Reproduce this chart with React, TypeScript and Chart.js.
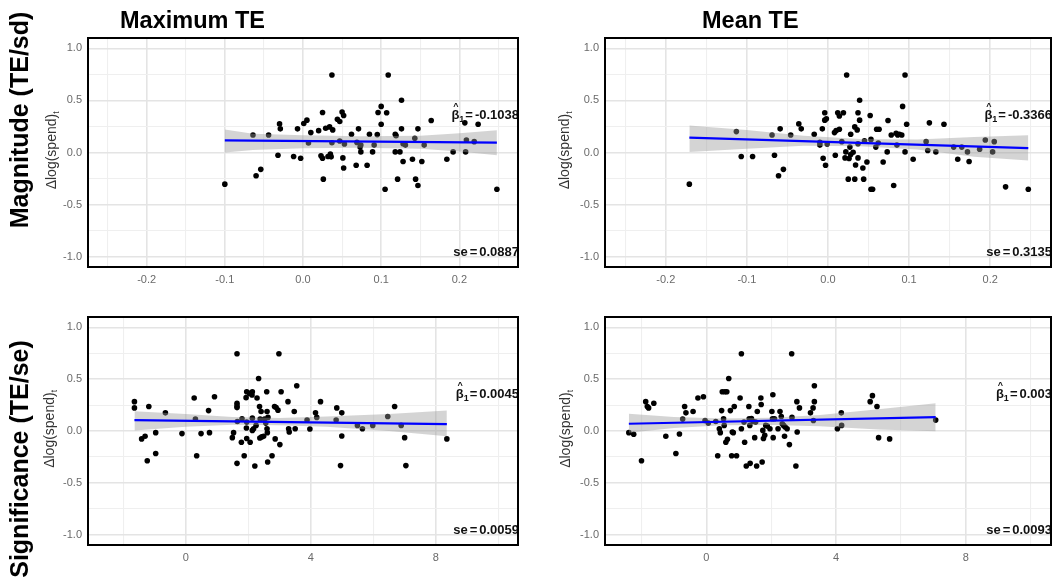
import React, { useEffect, useRef } from "react";
import { Chart, registerables } from "chart.js";

Chart.register(...registerables);

// ---- text ----
const columnTitles = ["Maximum TE", "Mean TE"];
const rowTitles = ["Magnitude (TE/sd)", "Significance (TE/se)"];
const yAxisLabel = "\u0394log(spend)";
const yAxisSub = "t";
const betaLabels = ["-0.1038", "-0.3366", "0.0045", "0.003"];
const seLabels = ["0.0887", "0.3135", "0.0059", "0.0093"];

// ---- axes ----
const yTicks = [-1, -0.5, 0, 0.5, 1];
const yMinorTicks = [-0.75, -0.25, 0.25, 0.75];
const xTicksMagnitude = [-0.2, -0.1, 0, 0.1, 0.2];
const xMinorMagnitude = [-0.25, -0.15, -0.05, 0.05, 0.15, 0.25];
const xTicksSignificance = [0, 4, 8];
const xMinorSignificance = [-2, 2, 6, 10];

// ---- observations: [x, Δlog(spend)] ----
const magMaxPoints: [number, number][] = [
  [-0.1, -0.304], [-0.064, 0.168], [-0.06, -0.223], [-0.054, -0.162], [-0.044, 0.168],
  [-0.03, 0.275], [-0.029, 0.227], [-0.032, -0.026], [-0.012, -0.039], [-0.007, 0.227],
  [-0.003, -0.055], [0.001, 0.278], [0.005, 0.311], [0.007, 0.091], [0.01, 0.191],
  [0.02, 0.21], [0.025, 0.385], [0.023, -0.032], [0.025, -0.055], [0.026, -0.256],
  [0.029, 0.233], [0.032, -0.039], [0.034, 0.246], [0.035, -0.016], [0.036, -0.042],
  [0.037, 0.744], [0.037, 0.094], [0.038, 0.217], [0.044, 0.32], [0.047, 0.298],
  [0.047, 0.11], [0.05, 0.388], [0.052, 0.356], [0.051, -0.052], [0.052, -0.149],
  [0.053, 0.081], [0.062, 0.175], [0.068, -0.123], [0.071, 0.227], [0.069, 0.097],
  [0.073, 0.052], [0.074, 0.006], [0.074, 0.071], [0.082, -0.123], [0.085, 0.175],
  [0.089, 0.006], [0.091, 0.071], [0.095, 0.172], [0.096, 0.385], [0.1, 0.443],
  [0.1, 0.272], [0.105, -0.353], [0.107, 0.382], [0.109, 0.744], [0.118, 0.175],
  [0.119, 0.162], [0.118, 0.006], [0.121, -0.256], [0.124, 0.006], [0.126, 0.502],
  [0.126, 0.227], [0.128, -0.087], [0.128, 0.084], [0.131, 0.071], [0.14, -0.065],
  [0.143, 0.136], [0.144, -0.256], [0.147, 0.227], [0.147, -0.317], [0.152, -0.087],
  [0.155, 0.071], [0.164, 0.307], [0.184, -0.065], [0.192, 0.006], [0.207, 0.285],
  [0.209, 0.12], [0.208, 0.006], [0.219, 0.104], [0.224, 0.272], [0.248, -0.353],
];

const magMeanPoints: [number, number][] = [
  [-0.171, -0.304], [-0.113, 0.201], [-0.107, -0.039], [-0.093, -0.039], [-0.069, 0.168],
  [-0.066, -0.026], [-0.061, -0.223], [-0.059, 0.227], [-0.055, -0.162], [-0.046, 0.168],
  [-0.036, 0.275], [-0.033, 0.227], [-0.017, 0.175], [-0.01, 0.097], [-0.01, 0.071],
  [-0.007, 0.227], [-0.006, -0.055], [-0.004, 0.382], [-0.004, 0.311], [-0.003, -0.123],
  [-0.002, 0.324], [-0.001, 0.081], [0.008, 0.191], [0.009, -0.026], [0.01, 0.21],
  [0.012, 0.382], [0.014, 0.35], [0.014, 0.223], [0.017, 0.104], [0.019, 0.382],
  [0.021, -0.052], [0.022, 0.006], [0.023, 0.744], [0.025, -0.256], [0.026, -0.058],
  [0.027, 0.052], [0.028, 0.175], [0.028, -0.019], [0.031, 0.003], [0.033, -0.256],
  [0.033, 0.246], [0.034, -0.12], [0.036, 0.217], [0.037, -0.052], [0.037, 0.084],
  [0.037, 0.382], [0.039, 0.502], [0.039, 0.311], [0.043, -0.149], [0.044, -0.256],
  [0.045, 0.113], [0.048, -0.091], [0.052, 0.356], [0.053, -0.353], [0.055, -0.353],
  [0.053, 0.126], [0.059, 0.052], [0.06, 0.223], [0.063, 0.223], [0.062, 0.091],
  [0.068, -0.091], [0.073, 0.006], [0.074, 0.307], [0.078, 0.168], [0.081, -0.317],
  [0.084, 0.184], [0.085, 0.071], [0.086, 0.168], [0.088, 0.175], [0.091, 0.168],
  [0.092, 0.443], [0.095, 0.744], [0.095, 0.006], [0.097, 0.272], [0.105, -0.065],
  [0.121, 0.104], [0.123, 0.019], [0.125, 0.285], [0.133, 0.006], [0.143, 0.272],
  [0.155, 0.052], [0.16, -0.065], [0.165, 0.052], [0.172, 0.006], [0.174, -0.087],
  [0.187, 0.032], [0.194, 0.12], [0.203, 0.006], [0.205, 0.104], [0.219, -0.33],
  [0.247, -0.353],
];

const sigMaxPoints: [number, number][] = [
  [-1.64, 0.283], [-1.64, 0.223], [-1.18, 0.236], [-1.41, -0.076], [-1.3, -0.051],
  [-1.23, -0.287], [-0.96, -0.016], [-0.96, -0.217], [-0.65, 0.175], [-0.12, -0.025],
  [0.27, 0.318], [0.31, 0.115], [0.35, -0.239], [0.49, -0.025], [0.73, 0.197],
  [0.76, -0.016], [0.92, 0.331], [1.49, -0.064], [1.53, -0.016], [1.64, 0.745],
  [1.64, 0.268], [1.64, 0.242], [1.64, 0.226], [1.64, -0.312], [1.65, 0.092],
  [1.8, 0.118], [1.78, -0.108], [1.87, -0.239], [1.93, 0.322], [1.95, 0.379],
  [1.94, 0.029], [1.95, -0.073], [1.95, 0.086], [2.04, 0.363], [2.06, -0.108],
  [2.12, 0.347], [2.13, 0.379], [2.13, 0.124], [2.13, 0.006], [2.17, 0.022],
  [2.21, -0.338], [2.25, 0.054], [2.28, 0.318], [2.33, 0.506], [2.36, 0.236],
  [2.38, 0.115], [2.37, -0.067], [2.41, 0.188], [2.43, -0.057], [2.49, -0.051],
  [2.52, 0.115], [2.56, 0.076], [2.59, 0.379], [2.6, 0.188], [2.6, 0.022],
  [2.61, -0.016], [2.62, -0.299], [2.63, 0.131], [2.76, -0.239], [2.84, 0.236],
  [2.86, -0.076], [2.89, 0.226], [2.95, 0.201], [2.98, 0.745], [3.01, -0.131],
  [3.05, 0.379], [3.27, 0.283], [3.29, 0.022], [3.31, -0.01], [3.47, 0.188],
  [3.5, 0.022], [3.55, 0.436], [3.88, 0.105], [3.97, 0.019], [4.15, 0.175],
  [4.19, 0.131], [4.31, 0.283], [4.81, 0.105], [4.83, 0.223], [4.95, -0.334],
  [4.99, 0.175], [4.99, -0.048], [5.49, 0.054], [5.65, 0.022], [5.98, 0.054],
  [6.46, 0.14], [6.68, 0.236], [6.89, 0.054], [7.0, -0.064], [7.04, -0.334],
  [8.35, -0.076],
];

const sigMeanPoints: [number, number][] = [
  [-2.39, -0.016], [-2.24, -0.032], [-2.0, -0.287], [-1.87, 0.283], [-1.82, 0.236],
  [-1.78, 0.223], [-1.62, 0.268], [-1.25, -0.051], [-0.94, -0.217], [-0.83, -0.029],
  [-0.73, 0.115], [-0.67, 0.236], [-0.63, 0.175], [-0.41, 0.188], [-0.26, 0.318],
  [-0.09, 0.331], [-0.04, 0.102], [0.06, 0.076], [0.29, 0.092], [0.35, -0.239],
  [0.4, 0.022], [0.43, -0.016], [0.47, 0.197], [0.49, 0.379], [0.53, 0.118],
  [0.55, 0.054], [0.57, 0.379], [0.63, 0.379], [0.6, -0.108], [0.65, -0.08],
  [0.69, 0.506], [0.74, 0.197], [0.78, -0.239], [0.8, -0.01], [0.83, -0.016],
  [0.86, 0.236], [0.93, -0.239], [1.04, 0.318], [1.08, 0.745], [1.08, 0.022],
  [1.16, 0.086], [1.18, -0.108], [1.23, -0.338], [1.31, 0.236], [1.32, 0.118],
  [1.34, 0.054], [1.35, -0.312], [1.39, 0.121], [1.44, 0.092], [1.49, -0.064],
  [1.52, 0.086], [1.55, -0.338], [1.57, 0.188], [1.68, 0.318], [1.69, 0.255],
  [1.72, -0.299], [1.74, 0.006], [1.76, -0.073], [1.8, -0.041], [1.83, 0.054],
  [1.88, 0.048], [1.96, 0.022], [2.02, 0.188], [2.04, 0.118], [2.05, 0.35],
  [2.06, -0.064], [2.1, 0.118], [2.21, 0.022], [2.27, 0.188], [2.31, 0.14],
  [2.34, 0.07], [2.38, 0.054], [2.41, -0.051], [2.43, 0.038], [2.49, 0.022],
  [2.56, -0.131], [2.63, 0.745], [2.64, 0.131], [2.76, -0.338], [2.79, 0.283],
  [2.8, -0.01], [2.87, 0.223], [3.21, 0.175], [3.29, 0.223], [3.3, 0.102],
  [3.33, 0.436], [3.33, 0.283], [4.04, 0.022], [4.16, 0.175], [4.17, 0.054],
  [5.05, 0.283], [5.12, 0.341], [5.26, 0.236], [5.31, -0.064], [5.65, -0.076],
  [7.07, 0.105],
];

// ---- fitted lines (x at ends, fitted value at ends) ----
const magMaxFitX = [-0.1, 0.248];
const magMaxFitY = [0.117, 0.094];
const magMeanFitX = [-0.171, 0.247];
const magMeanFitY = [0.142, 0.042];
const sigMaxFitX = [-1.64, 8.35];
const sigMaxFitY = [0.105, 0.067];
const sigMeanFitX = [-2.39, 7.07];
const sigMeanFitY = [0.07, 0.134];

// ---- confidence bands ----
const magMaxBandX = [-0.1, -0.064, 0.0, 0.074, 0.15, 0.2, 0.248];
const magMaxBandLo = [0.0, 0.025, 0.04, 0.045, 0.035, 0.01, -0.026];
const magMaxBandHi = [0.222, 0.18, 0.165, 0.155, 0.16, 0.185, 0.213];

const magMeanBandX = [-0.171, -0.1, -0.03, 0.04, 0.11, 0.18, 0.247];
const magMeanBandLo = [0.006, 0.035, 0.065, 0.06, 0.03, -0.04, -0.078];
const magMeanBandHi = [0.259, 0.215, 0.16, 0.13, 0.125, 0.15, 0.165];

const sigMaxBandX = [-1.64, 0.0, 1.5, 3.0, 4.5, 6.5, 8.35];
const sigMaxBandLo = [0.006, 0.04, 0.06, 0.055, 0.04, 0.0, -0.051];
const sigMaxBandHi = [0.191, 0.165, 0.135, 0.125, 0.14, 0.165, 0.197];

const sigMeanBandX = [-2.39, -1.0, 0.5, 2.0, 3.5, 5.3, 7.07];
const sigMeanBandLo = [-0.016, 0.03, 0.055, 0.058, 0.045, 0.015, -0.003];
const sigMeanBandHi = [0.166, 0.135, 0.12, 0.128, 0.155, 0.21, 0.268];

const FONT = '"Liberation Sans", Arial, Helvetica, sans-serif';

type PanelSpec = {
  left: number;
  top: number;
  w: number;
  h: number;
  area: { left: number; top: number; right: number; bottom: number };
  points: [number, number][];
  fitX: number[];
  fitY: number[];
  bandX: number[];
  bandLo: number[];
  bandHi: number[];
  xRange: [number, number];
  xMajor: number[];
  xMinor: number[];
  xDecimals: number;
  beta: string;
  se: string;
  yTitleX: number;
  colTitle?: { text: string; x: number; y: number };
  rowTitle?: { text: string; x: number; y: number };
};

const Y_AXIS_W = 40;
const X_AXIS_H = 24;

const panels: PanelSpec[] = [
  {
    left: 0, top: 0, w: 545, h: 295,
    area: { left: 88, top: 38, right: 518, bottom: 267 },
    points: magMaxPoints, fitX: magMaxFitX, fitY: magMaxFitY,
    bandX: magMaxBandX, bandLo: magMaxBandLo, bandHi: magMaxBandHi,
    xRange: [-0.275, 0.275], xMajor: xTicksMagnitude, xMinor: xMinorMagnitude, xDecimals: 1,
    beta: betaLabels[0], se: seLabels[0], yTitleX: 52,
    colTitle: { text: columnTitles[0], x: 120, y: 28 },
    rowTitle: { text: rowTitles[0], x: 28, y: 120 },
  },
  {
    left: 545, top: 0, w: 510, h: 295,
    area: { left: 60, top: 38, right: 509, bottom: 267 },
    points: magMeanPoints, fitX: magMeanFitX, fitY: magMeanFitY,
    bandX: magMeanBandX, bandLo: magMeanBandLo, bandHi: magMeanBandHi,
    xRange: [-0.275, 0.275], xMajor: xTicksMagnitude, xMinor: xMinorMagnitude, xDecimals: 1,
    beta: betaLabels[1], se: seLabels[1], yTitleX: 20,
    colTitle: { text: columnTitles[1], x: 157, y: 28 },
  },
  {
    left: 0, top: 295, w: 545, h: 286,
    area: { left: 88, top: 22, right: 518, bottom: 250 },
    points: sigMaxPoints, fitX: sigMaxFitX, fitY: sigMaxFitY,
    bandX: sigMaxBandX, bandLo: sigMaxBandLo, bandHi: sigMaxBandHi,
    xRange: [-3.125, 10.625], xMajor: xTicksSignificance, xMinor: xMinorSignificance, xDecimals: 0,
    beta: betaLabels[2], se: seLabels[2], yTitleX: 50,
    rowTitle: { text: rowTitles[1], x: 28, y: 164 },
  },
  {
    left: 545, top: 295, w: 510, h: 286,
    area: { left: 60, top: 22, right: 509, bottom: 250 },
    points: sigMeanPoints, fitX: sigMeanFitX, fitY: sigMeanFitY,
    bandX: sigMeanBandX, bandLo: sigMeanBandLo, bandHi: sigMeanBandHi,
    xRange: [-3.125, 10.625], xMajor: xTicksSignificance, xMinor: xMinorSignificance, xDecimals: 0,
    beta: betaLabels[3], se: seLabels[3], yTitleX: 21,
  },
];

const isIn = (v: number, list: number[]) => list.some((m) => Math.abs(m - v) < 1e-9);

function drawBeta(ctx: CanvasRenderingContext2D, right: number, y: number, value: string) {
  const big = `bold 13px ${FONT}`;
  const small = `bold 9px ${FONT}`;
  ctx.save();
  ctx.fillStyle = "#111";
  ctx.textBaseline = "alphabetic";
  ctx.textAlign = "left";
  ctx.font = big;
  const wB = ctx.measureText("\u03b2").width;
  const wEq = ctx.measureText("=").width;
  const wV = ctx.measureText(value).width;
  ctx.font = small;
  const w1 = ctx.measureText("1").width;
  const total = wB + w1 + 1 + wEq + 2 + wV;
  let x = right - total;
  ctx.font = big;
  ctx.fillText("\u03b2", x, y);
  ctx.font = small;
  ctx.textAlign = "center";
  ctx.fillText("^", x + wB / 2 + 0.5, y - 10);
  ctx.textAlign = "left";
  x += wB;
  ctx.fillText("1", x, y + 3);
  x += w1 + 1;
  ctx.font = big;
  ctx.fillText("=", x, y);
  x += wEq + 2;
  ctx.fillText(value, x, y);
  ctx.restore();
}

function drawSe(ctx: CanvasRenderingContext2D, right: number, y: number, value: string) {
  ctx.save();
  ctx.fillStyle = "#111";
  ctx.textBaseline = "alphabetic";
  ctx.textAlign = "left";
  ctx.font = `bold 13px ${FONT}`;
  const wS = ctx.measureText("se").width;
  const wEq = ctx.measureText("=").width;
  const wV = ctx.measureText(value).width;
  const total = wS + 2 + wEq + 2 + wV;
  let x = right - total;
  ctx.fillText("se", x, y);
  x += wS + 2;
  ctx.fillText("=", x, y);
  x += wEq + 2;
  ctx.fillText(value, x, y);
  ctx.restore();
}

function makeDecor(spec: PanelSpec) {
  return {
    id: "panelDecor",
    afterDatasetsDraw(chart: any) {
      const ctx: CanvasRenderingContext2D = chart.ctx;
      const area = chart.chartArea;
      const ys = chart.scales.y;
      drawBeta(ctx, area.right + 1, ys.getPixelForValue(0.36) + 4, spec.beta);
      drawSe(ctx, area.right + 1, ys.getPixelForValue(-0.96) + 4, spec.se);
      ctx.save();
      ctx.strokeStyle = "#000";
      ctx.lineWidth = 2;
      ctx.strokeRect(area.left, area.top, area.right - area.left, area.bottom - area.top);
      ctx.restore();
    },
    afterDraw(chart: any) {
      const ctx: CanvasRenderingContext2D = chart.ctx;
      const ys = chart.scales.y;
      // y-axis title with subscript
      ctx.save();
      ctx.translate(spec.yTitleX, ys.getPixelForValue(0.02));
      ctx.rotate(-Math.PI / 2);
      ctx.fillStyle = "#333";
      ctx.textBaseline = "middle";
      ctx.textAlign = "left";
      ctx.font = `14px ${FONT}`;
      const wMain = ctx.measureText(yAxisLabel).width;
      ctx.font = `8.5px ${FONT}`;
      const wSub = ctx.measureText(yAxisSub).width;
      const start = -(wMain + wSub) / 2;
      ctx.font = `14px ${FONT}`;
      ctx.fillText(yAxisLabel, start, 0);
      ctx.font = `8.5px ${FONT}`;
      ctx.fillText(yAxisSub, start + wMain, 4.5);
      ctx.restore();

      if (spec.colTitle) {
        ctx.save();
        ctx.fillStyle = "#000";
        ctx.font = `bold 23.5px ${FONT}`;
        ctx.textAlign = "left";
        ctx.textBaseline = "alphabetic";
        ctx.fillText(spec.colTitle.text, spec.colTitle.x, spec.colTitle.y);
        ctx.restore();
      }
      if (spec.rowTitle) {
        ctx.save();
        ctx.translate(spec.rowTitle.x, spec.rowTitle.y);
        ctx.rotate(-Math.PI / 2);
        ctx.fillStyle = "#000";
        ctx.font = `bold 25px ${FONT}`;
        ctx.textAlign = "center";
        ctx.textBaseline = "alphabetic";
        ctx.fillText(spec.rowTitle.text, 0, 0);
        ctx.restore();
      }
    },
  };
}

function buildConfig(spec: PanelSpec): any {
  const a = spec.area;
  const xAll = [...spec.xMajor, ...spec.xMinor].sort((p, q) => p - q);
  const yAll = [...yTicks, ...yMinorTicks].sort((p, q) => p - q);
  const gridColor = (major: number[]) => (c: any) =>
    c.tick && isIn(c.tick.value, major) ? "#e4e4e4" : "#efefef";
  const gridWidth = (major: number[]) => (c: any) =>
    c.tick && isIn(c.tick.value, major) ? 1.6 : 1.1;
  return {
    type: "line",
    data: {
      datasets: [
        {
          label: "fit",
          data: spec.fitX.map((x, i) => ({ x, y: spec.fitY[i] })),
          borderColor: "#0000ff",
          borderWidth: 2.2,
          pointRadius: 0,
          fill: false,
          order: 0,
        },
        {
          label: "lower",
          data: spec.bandX.map((x, i) => ({ x, y: spec.bandLo[i] })),
          borderColor: "rgba(0,0,0,0)",
          borderWidth: 0,
          pointRadius: 0,
          fill: false,
          order: 1,
        },
        {
          label: "upper",
          data: spec.bandX.map((x, i) => ({ x, y: spec.bandHi[i] })),
          borderColor: "rgba(0,0,0,0)",
          borderWidth: 0,
          pointRadius: 0,
          fill: "-1",
          backgroundColor: "rgba(153,153,153,0.42)",
          order: 1,
        },
        {
          label: "obs",
          data: spec.points.map(([x, y]) => ({ x, y })),
          showLine: false,
          pointRadius: 2.8,
          pointBackgroundColor: "#000",
          pointBorderColor: "#000",
          pointBorderWidth: 0,
          order: 2,
        },
      ],
    },
    options: {
      responsive: false,
      maintainAspectRatio: false,
      animation: false,
      devicePixelRatio: 1,
      events: [],
      layout: {
        padding: {
          left: a.left - Y_AXIS_W,
          top: a.top,
          right: spec.w - a.right,
          bottom: spec.h - a.bottom - X_AXIS_H,
        },
      },
      plugins: { legend: { display: false }, tooltip: { enabled: false } },
      scales: {
        x: {
          type: "linear",
          min: spec.xRange[0],
          max: spec.xRange[1],
          afterBuildTicks: (s: any) => {
            s.ticks = xAll.map((v) => ({ value: v }));
          },
          afterFit: (s: any) => {
            s.height = X_AXIS_H;
          },
          grid: { color: gridColor(spec.xMajor), lineWidth: gridWidth(spec.xMajor), drawTicks: false },
          border: { display: false },
          ticks: {
            autoSkip: false,
            maxRotation: 0,
            padding: 6,
            color: "#6a6a6a",
            font: { family: FONT, size: 11 },
            callback: (v: number) => (isIn(v, spec.xMajor) ? v.toFixed(spec.xDecimals) : ""),
          },
        },
        y: {
          type: "linear",
          min: -1.1,
          max: 1.1,
          afterBuildTicks: (s: any) => {
            s.ticks = yAll.map((v) => ({ value: v }));
          },
          afterFit: (s: any) => {
            s.width = Y_AXIS_W;
          },
          grid: { color: gridColor(yTicks), lineWidth: gridWidth(yTicks), drawTicks: false },
          border: { display: false },
          ticks: {
            autoSkip: false,
            padding: 6,
            color: "#6a6a6a",
            font: { family: FONT, size: 11 },
            callback: (v: number) => (isIn(v, yTicks) ? v.toFixed(1) : ""),
          },
        },
      },
    },
    plugins: [makeDecor(spec)],
  };
}

function Panel({ spec }: { spec: PanelSpec }) {
  const ref = useRef<HTMLCanvasElement | null>(null);
  useEffect(() => {
    if (!ref.current) return;
    const chart = new Chart(ref.current, buildConfig(spec));
    return () => chart.destroy();
  }, [spec]);
  return (
    <canvas
      ref={ref}
      width={spec.w}
      height={spec.h}
      style={{ position: "absolute", left: spec.left, top: spec.top, width: spec.w, height: spec.h }}
    />
  );
}

export default function App() {
  return (
    <div
      style={{
        position: "fixed",
        left: 0,
        top: 0,
        width: 1055,
        height: 581,
        background: "#fff",
        overflow: "hidden",
      }}
    >
      {panels.map((p, i) => (
        <Panel key={i} spec={p} />
      ))}
    </div>
  );
}
